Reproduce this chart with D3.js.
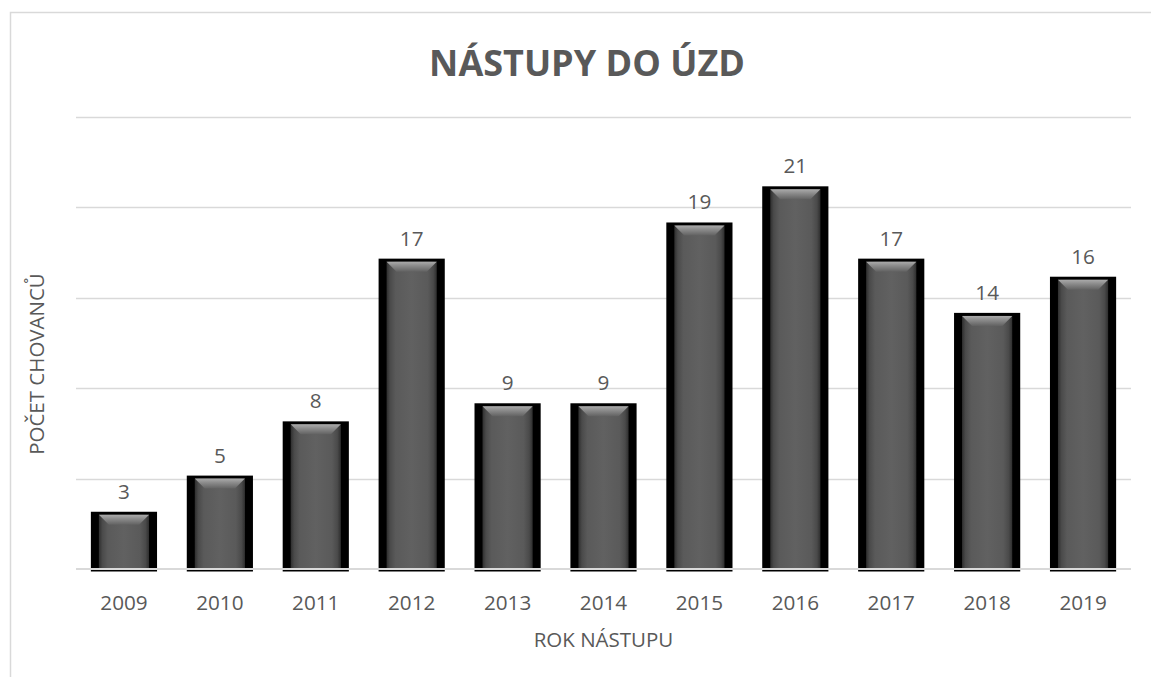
<!DOCTYPE html>
<html>
<head>
<meta charset="utf-8">
<script src="https://cdn.jsdelivr.net/npm/d3@7"></script>
<style>
  html, body { margin: 0; padding: 0; background: #fff; }
  svg { display: block; }
  text { font-family: "Open Sans", "Noto Sans", sans-serif; fill: #595959; }
</style>
</head>
<body>
<svg id="chart" width="1151" height="677"></svg>
<script>
const years = ["2009","2010","2011","2012","2013","2014","2015","2016","2017","2018","2019"];
const counts = [3, 5, 8, 17, 9, 9, 19, 21, 17, 14, 16];
const yTicks = [0, 5, 10, 15, 20, 25];
const titleText = "NÁSTUPY DO ÚZD";
const xTitle = "ROK NÁSTUPU";
const yTitle = "POČET CHOVANCŮ";

const svg = d3.select("#chart");
const plot = { left: 76, right: 1131, top: 117, bottom: 569 };

// chart border
svg.append("rect")
  .attr("x", 10.5).attr("y", 12.5)
  .attr("width", 1160).attr("height", 700)
  .attr("fill", "#fff").attr("stroke", "#d9d9d9").attr("stroke-width", 1.5);

const defs = svg.append("defs");
const hg = defs.append("linearGradient").attr("id", "bodyGrad")
  .attr("x1", "0").attr("x2", "1").attr("y1", "0").attr("y2", "0");
[[0, "#2e2e2e"], [0.07, "#4a4a4a"], [0.18, "#5a5a5a"], [0.5, "#616161"], [0.82, "#5a5a5a"], [0.93, "#4a4a4a"], [1, "#2e2e2e"]]
  .forEach(([o, c]) => hg.append("stop").attr("offset", o).attr("stop-color", c));
const tg = defs.append("linearGradient").attr("id", "topGrad")
  .attr("x1", "0").attr("x2", "0").attr("y1", "0").attr("y2", "1");
[[0, "#ababab"], [0.4, "#8c8c8c"], [1, "#626262"]]
  .forEach(([o, c]) => tg.append("stop").attr("offset", o).attr("stop-color", c));

const x = d3.scaleBand().domain(years).range([plot.left, plot.right])
  .paddingInner(0.31).paddingOuter(0.155);
const y = d3.scaleLinear().domain([0, 25]).range([plot.bottom, plot.top]);

// gridlines
svg.append("g").selectAll("line").data(yTicks.slice(1)).join("line")
  .attr("x1", plot.left).attr("x2", plot.right)
  .attr("y1", d => Math.round(y(d)) + 0.5).attr("y2", d => Math.round(y(d)) + 0.5)
  .attr("stroke", "#d9d9d9").attr("stroke-width", 1.5);

// bars
const data = years.map((yr, i) => ({ yr, v: counts[i] }));
const bars = svg.append("g").selectAll("g").data(data).join("g");
const bw = x.bandwidth();
const side = 8, topB = 3;
bars.append("rect")
  .attr("x", d => x(d.yr)).attr("y", d => y(d.v) - topB)
  .attr("width", bw).attr("height", d => y(0) - y(d.v) + topB + 2.5)
  .attr("fill", "#000");
bars.append("rect")
  .attr("x", d => x(d.yr) + side).attr("y", d => y(d.v))
  .attr("width", bw - 2 * side).attr("height", d => y(0) - y(d.v) - 1)
  .attr("fill", "url(#bodyGrad)");
const bev = 10;
bars.append("path")
  .attr("d", d => {
    const x0 = x(d.yr) + side, x1 = x(d.yr) + bw - side, t = y(d.v);
    return `M${x0},${t}L${x1},${t}L${x1 - bev},${t + bev}L${x0 + bev},${t + bev}Z`;
  })
  .attr("fill", "url(#topGrad)");

// value labels
bars.append("text")
  .attr("x", d => x(d.yr) + bw / 2).attr("y", d => y(d.v) - 16)
  .attr("text-anchor", "middle").attr("font-size", 20.7)
  .text(d => d.v);

// axis line
svg.append("line")
  .attr("x1", plot.left).attr("x2", plot.right)
  .attr("y1", y(0)).attr("y2", y(0))
  .attr("stroke", "#d9d9d9").attr("stroke-width", 2);

// x axis labels
const xAxis = d3.axisBottom(x).tickSize(0).tickPadding(0);
const gx = svg.append("g").attr("transform", `translate(0,${plot.bottom})`).call(xAxis);
gx.select(".domain").remove();
gx.selectAll("text").attr("font-size", 20.7).attr("dy", null).attr("y", 41)
  .style("font-family", "'Open Sans', sans-serif").attr("fill", "#595959");

// titles
svg.append("text").attr("x", 587).attr("y", 76).attr("text-anchor", "middle")
  .attr("font-size", 36).attr("font-weight", "bold").text(titleText);
svg.append("text").attr("x", 603.5).attr("y", 647).attr("text-anchor", "middle")
  .attr("font-size", 20.5).text(xTitle);
svg.append("text").attr("transform", "translate(44,364) rotate(-90)")
  .attr("text-anchor", "middle").attr("font-size", 20.5).text(yTitle);
</script>
</body>
</html>
